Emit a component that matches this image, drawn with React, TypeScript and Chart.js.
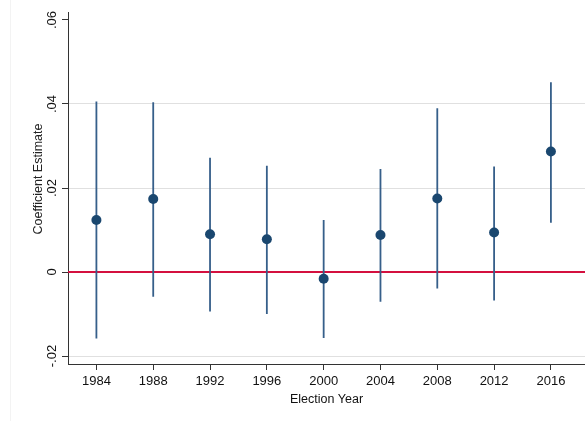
import React, { useEffect, useRef } from "react";
import { Chart, registerables } from "chart.js";

Chart.register(...registerables);

const years = [1984, 1988, 1992, 1996, 2000, 2004, 2008, 2012, 2016];
const estimates = [0.0124, 0.0174, 0.0090, 0.0078, -0.0016, 0.0088, 0.0175, 0.0094, 0.0287];
const lower = [-0.0158, -0.0059, -0.0094, -0.0100, -0.0157, -0.0071, -0.0039, -0.0068, 0.0117];
const upper = [0.0406, 0.0404, 0.0272, 0.0253, 0.0124, 0.0245, 0.0390, 0.0251, 0.0452];
const yTicks = [-0.02, 0, 0.02, 0.04, 0.06];
const xMin = 1982;
const xMax = 2018.4;
const yMin = -0.0219;
const yMax = 0.0619;

const NAVY = "#1a476f";
const BAR = "#365f8a";
const RED = "#d4103f";
const FONT = "'Liberation Sans', Arial, Helvetica, sans-serif";

function fmtY(v: number): string {
  if (Math.abs(v) < 1e-9) return "0";
  const s = Math.abs(v).toFixed(2).replace(/^0/, "");
  return (v < 0 ? "-" : "") + s;
}

const yTextPlugin = {
  id: "yText",
  afterDraw(chart: any) {
    const ctx = chart.ctx;
    const area = chart.chartArea;
    const ys = chart.scales.y;
    ctx.save();
    ctx.fillStyle = "#111";
    ctx.textAlign = "center";
    ctx.textBaseline = "alphabetic";
    ctx.font = `13px ${FONT}`;
    yTicks.forEach((v) => {
      ctx.save();
      ctx.translate(56.3, ys.getPixelForValue(v));
      ctx.rotate(-Math.PI / 2);
      ctx.fillText(fmtY(v), 0, 0);
      ctx.restore();
    });
    ctx.font = `12.5px ${FONT}`;
    ctx.fillStyle = "#222";
    ctx.translate(41.5, (area.top + area.bottom) / 2 - 9);
    ctx.rotate(-Math.PI / 2);
    ctx.fillText("Coefficient Estimate", 0, 0);
    ctx.restore();
  },
};

export default function App() {
  const ref = useRef<HTMLCanvasElement | null>(null);

  useEffect(() => {
    if (!ref.current) return;
    const barData: any[] = [];
    years.forEach((yr, i) => {
      barData.push({ x: yr, y: lower[i] });
      barData.push({ x: yr, y: upper[i] });
      barData.push({ x: yr, y: null });
    });
    const chart = new Chart(ref.current, {
      type: "scatter",
      data: {
        datasets: [
          {
            label: "Estimate",
            data: years.map((yr, i) => ({ x: yr, y: estimates[i] })),
            backgroundColor: NAVY,
            borderColor: NAVY,
            pointRadius: 5,
            pointBorderWidth: 0,
            order: 0,
          },
          {
            label: "CI",
            data: barData,
            showLine: true,
            spanGaps: false,
            borderColor: BAR,
            borderWidth: 1.8,
            pointRadius: 0,
            order: 1,
          } as any,
          {
            label: "Zero",
            data: [
              { x: xMin, y: 0 },
              { x: xMax, y: 0 },
            ],
            showLine: true,
            borderColor: RED,
            borderWidth: 1.8,
            pointRadius: 0,
            order: 2,
          } as any,
        ],
      },
      options: {
        animation: false,
        responsive: false,
        maintainAspectRatio: false,
        layout: { autoPadding: false, padding: { left: 0, top: 12, right: 0, bottom: 0 } },
        plugins: { legend: { display: false }, tooltip: { enabled: false } },
        scales: {
          x: {
            type: "linear",
            min: xMin,
            max: xMax,
            afterBuildTicks: (s: any) => {
              s.ticks = years.map((v) => ({ value: v }));
            },
            afterFit: (s: any) => {
              s.height = 57;
              s.paddingLeft = 0;
              s.paddingRight = 0;
            },
            ticks: {
              callback: (v: any) => String(v),
              font: { family: FONT, size: 13 },
              color: "#111",
              padding: 4,
              maxRotation: 0,
              minRotation: 0,
            },
            grid: {
              drawOnChartArea: false,
              drawTicks: true,
              tickLength: 6,
              tickColor: "#333",
            },
            border: { color: "#333", width: 1 },
            title: {
              display: true,
              text: "Election Year",
              font: { family: FONT, size: 12.5 },
              color: "#111",
              padding: { top: 0, bottom: 14 },
            },
          },
          y: {
            type: "linear",
            min: yMin,
            max: yMax,
            afterBuildTicks: (s: any) => {
              s.ticks = yTicks.map((v) => ({ value: v }));
            },
            afterFit: (s: any) => {
              s.width = 68;
              s.paddingTop = 0;
              s.paddingBottom = 0;
            },
            ticks: {
              display: false,
            },
            grid: {
              color: (c: any) => {
                const v = c.tick ? c.tick.value : null;
                if (v === null || Math.abs(v) < 1e-9 || Math.abs(v - 0.06) < 1e-9) return "rgba(0,0,0,0)";
                return "#e0e0e0";
              },
              lineWidth: 1,
              drawTicks: true,
              tickLength: 6,
              tickColor: "#333",
            },
            border: { color: "#333", width: 1 },
          },
        },
      },
      plugins: [yTextPlugin],
    });
    return () => chart.destroy();
  }, []);

  return (
    <div style={{ position: "absolute", left: 0, top: 0, width: 585, height: 421, background: "#fff" }}>
      <div style={{ position: "absolute", left: 10, top: 0, width: 1, height: 421, background: "#f3f3f3" }} />
      <canvas ref={ref} width={585} height={421} style={{ position: "absolute", left: 0, top: 0, width: 585, height: 421 }} />
    </div>
  );
}
